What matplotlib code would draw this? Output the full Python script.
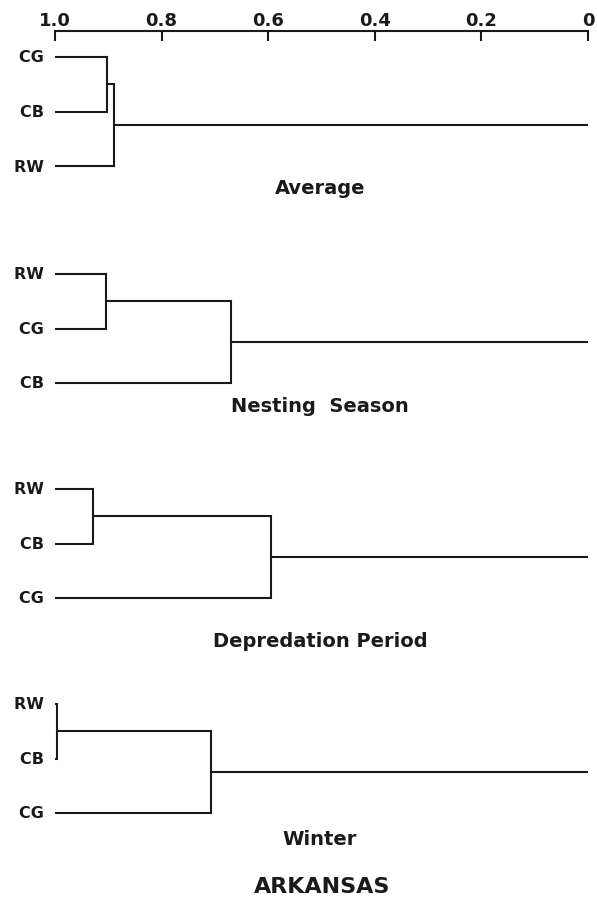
import matplotlib
matplotlib.use("Agg")
import matplotlib.pyplot as plt

# similarity scale on top (reads 1.0 on the left down to 0 on the right)
tick_values = [1.0, 0.8, 0.6, 0.4, 0.2, 0.0]
tick_labels = ["1.0", "0.8", "0.6", "0.4", "0.2", "0"]

# one dendrogram per season: leaf order top to bottom,
# level where the first two leaves join, level where the third leaf joins
panel_titles = ["Average", "Nesting  Season", "Depredation Period", "Winter"]
avg_leaves = ["CG", "CB", "RW"]
avg_joins = [0.903, 0.890]
nest_leaves = ["RW", "CG", "CB"]
nest_joins = [0.905, 0.669]
depr_leaves = ["RW", "CB", "CG"]
depr_joins = [0.929, 0.594]
wint_leaves = ["RW", "CB", "CG"]
wint_joins = [0.997, 0.708]
state = "ARKANSAS"

leaves = [avg_leaves, nest_leaves, depr_leaves, wint_leaves]
joins = [avg_joins, nest_joins, depr_joins, wint_joins]

W, H = 597, 904
fig = plt.figure(figsize=(W / 100, H / 100), dpi=100)
# axes spans 1.0 (x=55px) .. 0 (x=588px), top spine at y=32px
ax = fig.add_axes([55 / W, 0, 533 / W, (H - 32) / H])
ax.set_xlim(1.0, 0.0)
ax.set_ylim(H, 32)  # data y == pixel row

ink = "#1a1a1a"
lw = 1.5
font = "DejaVu Sans"
wt = "bold"

for s in ["left", "right", "bottom"]:
    ax.spines[s].set_visible(False)
ax.spines["top"].set_color(ink)
ax.spines["top"].set_linewidth(lw)
ax.xaxis.tick_top()
ax.set_xticks(tick_values)
ax.set_xticklabels(tick_labels, fontsize=13, family=font, weight=wt, color=ink)
ax.tick_params(axis="x", direction="in", length=7, width=lw, color=ink, pad=1.5)
ax.set_yticks([])

panel_top = [58, 275, 490, 705]
gap = 54.5
title_y = [188, 407, 642, 840]

for i in range(4):
    y0 = panel_top[i]
    ys = [y0 + k * gap for k in range(3)]
    a, b = joins[i]
    for name, y in zip(leaves[i], ys):
        ax.text(1.0, y, name + "  ", ha="right", va="center", fontsize=11.5,
                family=font, weight=wt, color=ink, clip_on=False)
    # first pair
    ax.plot([1.0, a, a, 1.0], [ys[0], ys[0], ys[1], ys[1]], color=ink, lw=lw,
            solid_joinstyle="miter")
    ym = (ys[0] + ys[1]) / 2
    # third leaf joins the pair
    ax.plot([a, b, b, 1.0], [ym, ym, ys[2], ys[2]], color=ink, lw=lw,
            solid_joinstyle="miter")
    yr = (ym + ys[2]) / 2
    ax.plot([b, 0.0], [yr, yr], color=ink, lw=lw)
    ax.text(1 - (320 - 55) / 533, title_y[i], panel_titles[i], ha="center",
            va="center", fontsize=14, family=font, weight=wt, color=ink)

ax.text(1 - (322 - 55) / 533, 887, state, ha="center", va="center",
        fontsize=16, family=font, weight=wt, color=ink)

fig.savefig("out.png", dpi=100, facecolor="white")
